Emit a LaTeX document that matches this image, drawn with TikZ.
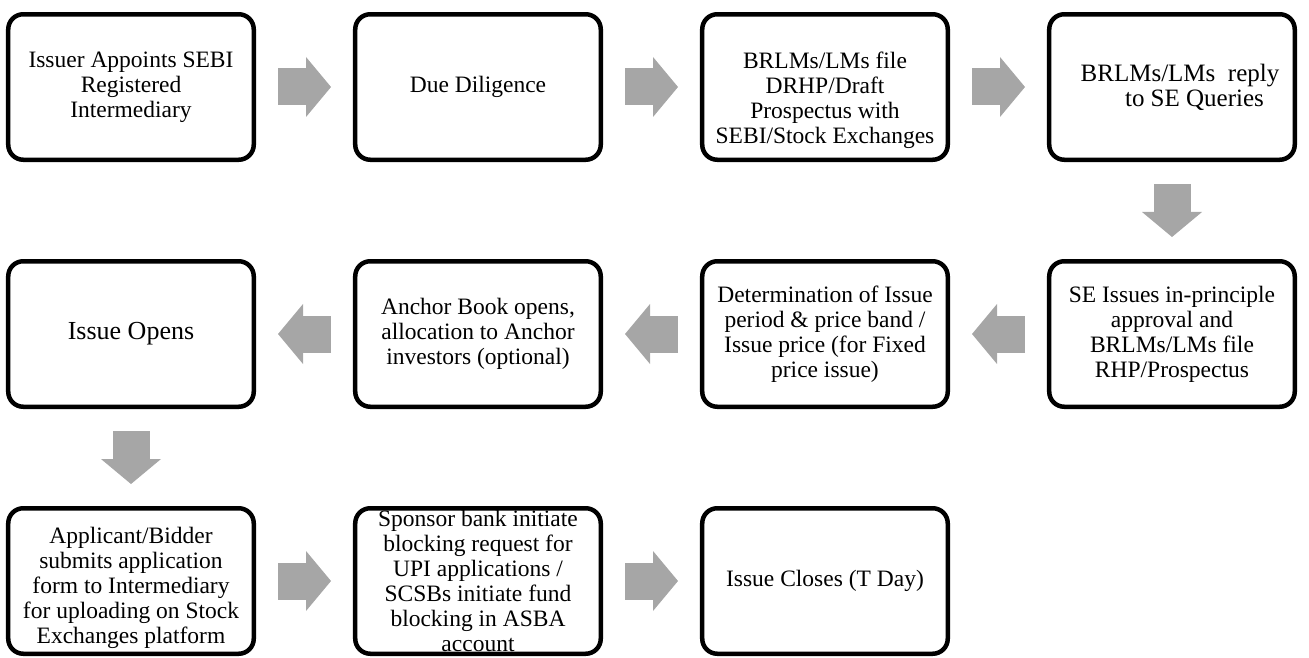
\documentclass[tikz,border=0pt]{standalone}
\usepackage{fontspec}
\setmainfont{Liberation Serif}
\usetikzlibrary{matrix, arrows.meta}
\definecolor{arrowgray}{RGB}{166,166,166}
\tikzset{
  steptext/.style={align=center, inner sep=0pt, font=\fontsize{23.5pt}{25pt}\selectfont},
  stepbox/.style={steptext, draw, line width=4.5pt, rounded corners=15pt,
    minimum width=245.5pt, minimum height=145.5pt},
  flowarrow/.style={draw=arrowgray, line width=37pt, -{Triangle[width=60pt, length=25pt, line width=0pt]},
    shorten <=22pt, shorten >=22pt}
}
\begin{document}
\begin{tikzpicture}[x=1pt, y=1pt]
\useasboundingbox (0,0) rectangle (1309,657);
\matrix (m) at (651.5,323) [column sep = 97pt, row sep = 97pt]{
\node[stepbox](appoint){Issuer Appoints SEBI\\Registered\\Intermediary}; &
\node[stepbox](diligence){Due Diligence}; &
\node[stepbox](drhp){};
\node[steptext](drhptext) at (0,-13) {BRLMs/LMs file\\DRHP/Draft\\Prospectus with\\SEBI/Stock Exchanges}; &
\node[stepbox, font=\fontsize{25pt}{25pt}\selectfont](reply){\hspace*{16pt}BRLMs/LMs\ \ reply\\\hspace*{45pt}to SE Queries}; \\
\node[stepbox, font=\fontsize{26pt}{25pt}\selectfont](opens){Issue Opens}; &
\node[stepbox](anchor){Anchor Book opens,\\allocation to Anchor\\investors (optional)}; &
\node[stepbox](pricing){Determination of Issue\\period \& price band /\\Issue price (for Fixed\\price issue)}; &
\node[stepbox](approval){SE Issues in-principle\\approval and\\BRLMs/LMs file\\RHP/Prospectus}; \\
\node[stepbox](apply){};
\node[steptext](applytext) at (0,-7) {Applicant/Bidder\\submits application\\form to Intermediary\\for uploading on Stock\\Exchanges platform}; &
\node[stepbox](blocking){Sponsor bank initiate\\blocking request for\\UPI applications /\\SCSBs initiate fund\\blocking in ASBA\\account}; &
\node[stepbox](closes){Issue Closes (T Day)}; \\
};
% row 1, left to right
\draw[flowarrow] (appoint) -- (diligence);
\draw[flowarrow] (diligence) -- (drhp);
\draw[flowarrow] (drhp) -- (reply);
\draw[flowarrow] (reply) -- (approval);
% row 2, right to left
\draw[flowarrow] (approval) -- (pricing);
\draw[flowarrow] (pricing) -- (anchor);
\draw[flowarrow] (anchor) -- (opens);
\draw[flowarrow] (opens) -- (apply);
% row 3
\draw[flowarrow] (apply) -- (blocking);
\draw[flowarrow] (blocking) -- (closes);
\end{tikzpicture}
\end{document}
